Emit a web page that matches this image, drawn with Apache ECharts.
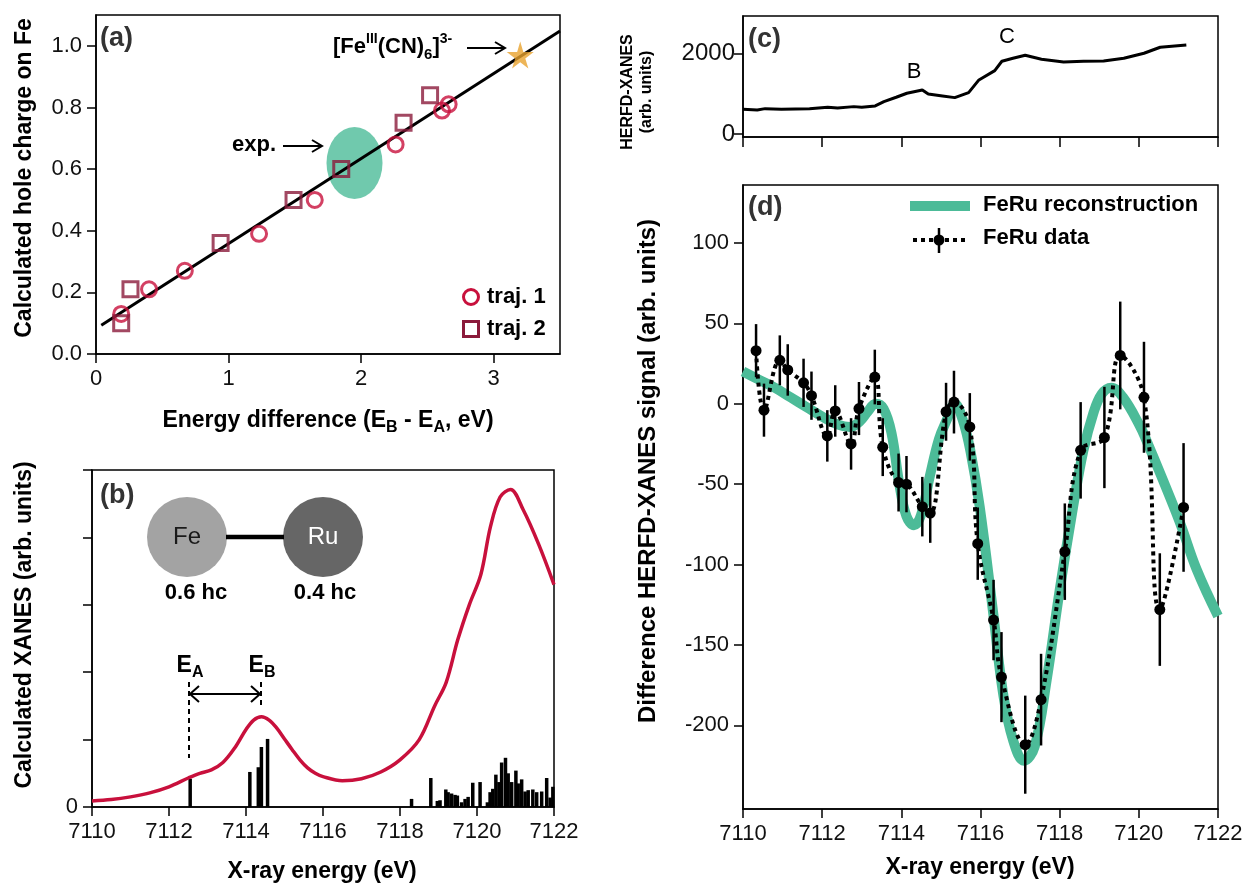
<!DOCTYPE html>
<html>
<head>
<meta charset="UTF-8" />
<title>FeRu hole charge and HERFD-XANES</title>
<script src="https://cdn.jsdelivr.net/npm/echarts@6/dist/echarts.min.js"></script>
<style>
  html, body { margin: 0; padding: 0; background: #fff; }
  #main { width: 1251px; height: 890px; }
</style>
</head>
<body>
<div id="main"></div>
<script>
  // ---- panel (a): hole charge vs energy difference ----
  const traj1 = [[0.19,0.13],[0.40,0.21],[0.67,0.27],[1.23,0.39],[1.65,0.50],[2.26,0.68],[2.61,0.79],[2.66,0.81]];
  const traj2 = [[0.19,0.10],[0.26,0.21],[0.94,0.36],[1.49,0.50],[1.85,0.60],[2.32,0.75],[2.52,0.84]];
  const fitLine = [[0.04,0.093],[3.5,1.048]];
  const ferricyanide = [[3.20,0.97]];
  const expRegion = [[1.95,0.62]];
  const aXTicks = [0,1,2,3];
  const aYTicks = [0,0.2,0.4,0.6,0.8,1.0];

  // ---- panel (b): calculated XANES + stick spectrum ----
  const xanesE = [7110.0,7110.5,7111.0,7111.5,7112.0,7112.5,7112.8,7113.1,7113.4,7113.7,7114.0,7114.2,7114.4,7114.6,7114.8,7115.0,7115.2,7115.4,7115.6,7115.8,7116.0,7116.5,7117.0,7117.5,7118.0,7118.5,7118.9,7119.2,7119.5,7119.8,7120.1,7120.35,7120.6,7120.87,7121.2,7121.6,7122.0];
  const xanesI = [0.09,0.11,0.15,0.21,0.30,0.43,0.50,0.55,0.66,0.87,1.15,1.29,1.34,1.29,1.17,1.01,0.85,0.70,0.58,0.50,0.45,0.39,0.42,0.52,0.70,1.00,1.50,1.85,2.48,3.00,3.45,4.16,4.60,4.71,4.41,3.90,3.30];
  const stickE = [7112.55,7114.10,7114.32,7114.40,7114.56,7118.30,7118.80,7118.97,7119.04,7119.19,7119.25,7119.34,7119.43,7119.49,7119.60,7119.69,7119.77,7119.89,7120.08,7120.27,7120.34,7120.41,7120.49,7120.57,7120.64,7120.74,7120.81,7120.90,7121.01,7121.07,7121.16,7121.25,7121.33,7121.45,7121.55,7121.68,7121.81,7121.90,7121.97];
  const stickI = [0.42,0.52,0.59,0.89,1.01,0.12,0.43,0.09,0.10,0.26,0.22,0.20,0.18,0.17,0.07,0.12,0.15,0.36,0.37,0.07,0.22,0.27,0.48,0.37,0.66,0.73,0.50,0.37,0.54,0.35,0.41,0.23,0.25,0.26,0.22,0.23,0.43,0.14,0.30];
  const energyTicks = [7110,7112,7114,7116,7118,7120,7122];

  // ---- panel (c): HERFD-XANES ----
  const herfdE = [7110.0,7110.36,7110.56,7110.97,7111.68,7112.14,7112.39,7112.8,7113.0,7113.34,7113.56,7113.87,7114.14,7114.53,7114.68,7115.04,7115.35,7115.70,7115.96,7116.36,7116.54,7116.82,7117.13,7117.54,7118.10,7118.6,7119.11,7119.62,7120.13,7120.54,7121.2];
  const herfdV = [612,595,628,612,628,662,645,678,662,695,802,910,1009,1092,992,943,901,1025,1340,1571,1803,1877,1952,1852,1786,1803,1811,1877,2001,2150,2208];
  const cYTicks = [0,2000];

  // ---- panel (d): difference signal ----
  const dataE = [7110.33,7110.53,7110.93,7111.13,7111.53,7111.73,7112.13,7112.33,7112.73,7112.93,7113.33,7113.53,7113.93,7114.13,7114.53,7114.73,7115.13,7115.33,7115.73,7115.93,7116.33,7116.53,7117.13,7117.53,7118.13,7118.53,7119.13,7119.53,7120.13,7120.53,7121.13];
  const dataV = [33,-4,27,21,13,5,-20,-4.5,-25,-3,16.6,-27,-49,-50,-64,-68,-5,1,-14.4,-87,-134.5,-170,-212,-184,-92,-29,-21,30,4,-128,-64.5];
  const dataErr = [16.5,16.5,15.5,16,15,15,16,16,16,16.5,17,18,18,17.5,18.5,18.5,18,19.5,21,22.5,25,28,30.5,28.5,30,30,31.5,33.5,34.5,35,40];
  const reconE = [7110.0,7110.4,7110.8,7111.2,7111.6,7112.0,7112.4,7112.7,7112.95,7113.15,7113.35,7113.55,7113.75,7113.95,7114.13,7114.32,7114.5,7114.72,7114.95,7115.15,7115.35,7115.55,7115.75,7115.98,7116.32,7116.57,7116.82,7117.1,7117.37,7117.67,7118.0,7118.34,7118.6,7118.85,7119.06,7119.3,7119.6,7120.03,7120.19,7120.61,7121.04,7121.46,7122.0];
  const reconV = [20,15,10,4,-2,-8,-13,-14.5,-11,-5,0,-3,-18,-50,-70,-75.5,-69,-45,-22,-10,0,-10,-30,-64,-130,-180,-209,-222,-213,-172,-116,-64,-29,-6,6,10,4,-14,-22.7,-47.5,-74,-103,-132];
  const dYTicks = [-200,-150,-100,-50,0,50,100];

  const FONT = "'Liberation Sans', Arial, Helvetica, sans-serif";
  const teal = '#4cbb98';
  const crimson = '#c8103c';
  const darkred = '#8b1a3b';
  const gold = '#e9a22e';
  const star = 'path://M50,0 L61,35 L98,35 L68,57 L79,91 L50,70 L21,91 L32,57 L2,35 L39,35 Z';

  const zip = (a, b) => a.map((v, i) => [v, b[i]]);

  const chart = echarts.init(document.getElementById('main'));

  const boxGrid = (left, top, width, height) => ({
    left, top, width, height, show: true, borderColor: '#000', borderWidth: 1.5, backgroundColor: 'transparent'
  });

  function axis(gridIndex, min, max, ticks, extra) {
    const base = {
      gridIndex, type: 'value', min, max,
      axisLine: { show: true, onZero: false, lineStyle: { color: '#000', width: 1.5 } },
      axisTick: { show: true, length: 9, customValues: ticks, lineStyle: { color: '#000', width: 1.5 } },
      axisLabel: { customValues: ticks, fontSize: 22, color: '#111', fontFamily: FONT, margin: 14, formatter: v => String(v) },
      splitLine: { show: false }
    };
    extra = extra || {};
    if (extra.axisLabel) extra.axisLabel = Object.assign({}, base.axisLabel, extra.axisLabel);
    if (extra.axisTick) extra.axisTick = Object.assign({}, base.axisTick, extra.axisTick);
    return Object.assign(base, extra);
  }

  function txt(x, y, text, o) {
    o = o || {};
    return {
      type: 'text', x, y, rotation: o.rotation || 0, z: 50,
      style: {
        text, fill: o.fill || '#000',
        font: (o.bold ? 'bold ' : '') + (o.size || 22) + 'px ' + FONT,
        textAlign: o.align || 'center', align: o.align || 'center',
        textVerticalAlign: 'middle', verticalAlign: 'middle',
        rich: o.rich
      }
    };
  }
  function seg(x1, y1, x2, y2, w, dash) {
    return { type: 'line', z: 50, shape: { x1, y1, x2, y2 }, style: { stroke: '#000', lineWidth: w || 2, lineDash: dash || null } };
  }
  function head(points, w) {
    return { type: 'polyline', z: 50, shape: { points }, style: { stroke: '#000', lineWidth: w || 2, fill: null } };
  }

  const bold = (size, extra) => Object.assign({ fontSize: size, fontWeight: 'bold', fontFamily: FONT, color: '#000' }, extra || {});
  const richBase = {
    t: bold(23, { lineHeight: 30, verticalAlign: 'middle' }),
    s: bold(16, { lineHeight: 14, verticalAlign: 'bottom' }),
    p: bold(15, { lineHeight: 14, verticalAlign: 'top' })
  };

  const graphics = [
    // panel labels
    txt(100, 39, '(a)', { bold: true, size: 27, fill: '#333', align: 'left' }),
    txt(100, 496, '(b)', { bold: true, size: 27, fill: '#333', align: 'left' }),
    txt(748, 40, '(c)', { bold: true, size: 27, fill: '#333', align: 'left' }),
    txt(748, 208, '(d)', { bold: true, size: 27, fill: '#333', align: 'left' }),

    // axis titles
    txt(25, 178, 'Calculated hole charge on Fe', { bold: true, size: 23, rotation: Math.PI / 2 }),
    txt(328, 421, '{t|Energy difference (E}{s|B}{t| - E}{s|A}{t|, eV)}', { rich: richBase }),
    txt(25, 625, 'Calculated XANES (arb. units)', { bold: true, size: 23, rotation: Math.PI / 2 }),
    txt(322, 872, 'X-ray energy (eV)', { bold: true, size: 23 }),
    txt(628, 92, 'HERFD-XANES', { bold: true, size: 16, rotation: Math.PI / 2 }),
    txt(647, 92, '(arb. units)', { bold: true, size: 16, rotation: Math.PI / 2 }),
    txt(648, 471, 'Difference HERFD-XANES signal (arb. units)', { bold: true, size: 24, rotation: Math.PI / 2 }),
    txt(980, 868, 'X-ray energy (eV)', { bold: true, size: 23 }),

    // panel (a) annotations
    txt(232, 145, 'exp.', { bold: true, size: 22, align: 'left' }),
    seg(283, 146, 321, 146, 2),
    head([[312, 140], [322, 146], [312, 152]], 2),
    txt(333, 47, '{t|[Fe}{p|III}{t|(CN)}{s|6}{t|]}{p|3-}', { align: 'left', rich: {
      t: bold(22, { lineHeight: 30, verticalAlign: 'middle' }),
      s: bold(15, { lineHeight: 14, verticalAlign: 'bottom' }),
      p: bold(14, { lineHeight: 14, verticalAlign: 'top' })
    } }),
    seg(467, 48, 504, 48, 2),
    head([[495, 42], [505, 48], [495, 54]], 2),
    // legend (a)
    { type: 'circle', z: 50, shape: { cx: 471, cy: 297, r: 7.5 }, style: { fill: null, stroke: crimson, lineWidth: 3 } },
    txt(487, 297, 'traj. 1', { bold: true, size: 22, align: 'left' }),
    { type: 'rect', z: 50, shape: { x: 463.5, y: 321.5, width: 15, height: 15 }, style: { fill: null, stroke: darkred, lineWidth: 3 } },
    txt(487, 329, 'traj. 2', { bold: true, size: 22, align: 'left' }),

    // panel (b) inset molecule
    seg(226, 537, 284, 537, 4.5),
    { type: 'circle', z: 49, shape: { cx: 187, cy: 537, r: 40 }, style: { fill: '#a3a3a3' } },
    { type: 'circle', z: 49, shape: { cx: 323, cy: 537, r: 40 }, style: { fill: '#666666' } },
    txt(187, 537, 'Fe', { size: 24, fill: '#1a1a1a' }),
    txt(323, 537, 'Ru', { size: 24, fill: '#ffffff' }),
    txt(196, 593, '0.6 hc', { bold: true, size: 22 }),
    txt(325, 593, '0.4 hc', { bold: true, size: 22 }),
    // E_A / E_B markers
    txt(190, 666, '{t|E}{s|A}', { rich: richBase }),
    txt(262, 666, '{t|E}{s|B}', { rich: richBase }),
    seg(189, 682, 189, 758, 2, [5, 4]),
    seg(261, 682, 261, 706, 2, [5, 4]),
    seg(190, 694, 260, 694, 2),
    head([[199, 686], [190, 694], [199, 702]], 2),
    head([[251, 686], [260, 694], [251, 702]], 2),

    // panel (c) peak labels
    txt(914, 72, 'B', { size: 22 }),
    txt(1007, 37, 'C', { size: 22 }),

    // legend (d)
    { type: 'rect', z: 50, shape: { x: 910, y: 201, width: 60, height: 10 }, style: { fill: teal } },
    txt(983, 205, 'FeRu reconstruction', { bold: true, size: 22, align: 'left' }),
    seg(913, 240, 966, 240, 4, [4, 4]),
    seg(939, 228, 939, 253, 2.5),
    { type: 'circle', z: 51, shape: { cx: 939, cy: 240, r: 5.5 }, style: { fill: '#000' } },
    txt(983, 238, 'FeRu data', { bold: true, size: 22, align: 'left' })
  ];

  const option = {
    animation: false,
    backgroundColor: '#fff',
    grid: [
      boxGrid(96, 15, 464, 339),
      boxGrid(92, 470, 462, 337),
      boxGrid(743, 16, 475, 121),
      boxGrid(743, 185, 475, 624)
    ],
    xAxis: [
      axis(0, 0, 3.5, aXTicks),
      axis(1, 7110, 7122, energyTicks, { interval: 2 }),
      axis(2, 7110, 7122, energyTicks, { interval: 2, axisLabel: { show: false }, axisTick: { length: 10 } }),
      axis(3, 7110, 7122, energyTicks, { interval: 2 })
    ],
    yAxis: [
      axis(0, 0, 1.1, aYTicks, { axisLabel: { formatter: v => v.toFixed(1) } }),
      axis(1, 0, 5, [0,1,2,3,4,5], { interval: 1, axisLabel: { customValues: [0] } }),
      axis(2, -75, 2925, cYTicks, { axisLabel: { fontSize: 24, margin: 8 } }),
      axis(3, -252, 136, dYTicks)
    ],
    series: [
      // (a)
      { type: 'scatter', xAxisIndex: 0, yAxisIndex: 0, data: expRegion, symbol: 'circle', symbolSize: [56, 72], itemStyle: { color: teal }, z: 1, silent: true },
      { type: 'line', xAxisIndex: 0, yAxisIndex: 0, data: fitLine, showSymbol: false, lineStyle: { color: '#000', width: 3 }, z: 2 },
      { type: 'scatter', xAxisIndex: 0, yAxisIndex: 0, data: traj1, symbol: 'circle', symbolSize: 15, itemStyle: { color: 'rgba(0,0,0,0)', borderColor: crimson, borderWidth: 3 }, z: 3 },
      { type: 'scatter', xAxisIndex: 0, yAxisIndex: 0, data: traj2, symbol: 'rect', symbolSize: 15, itemStyle: { color: 'rgba(0,0,0,0)', borderColor: darkred, borderWidth: 3 }, z: 3 },
      { type: 'scatter', xAxisIndex: 0, yAxisIndex: 0, data: ferricyanide, symbol: star, symbolSize: 27, itemStyle: { color: gold }, z: 4 },
      // (b)
      { type: 'bar', xAxisIndex: 1, yAxisIndex: 1, data: zip(stickE, stickI), barWidth: 3.5, itemStyle: { color: '#000' }, z: 2 },
      { type: 'line', xAxisIndex: 1, yAxisIndex: 1, data: zip(xanesE, xanesI), smooth: 0.35, showSymbol: false, lineStyle: { color: crimson, width: 3.5 }, z: 3 },
      // (c)
      { type: 'line', xAxisIndex: 2, yAxisIndex: 2, data: zip(herfdE, herfdV), showSymbol: false, lineStyle: { color: '#000', width: 3 } },
      // (d)
      { type: 'line', xAxisIndex: 3, yAxisIndex: 3, data: zip(reconE, reconV), smooth: 0.4, showSymbol: false, lineStyle: { color: teal, width: 10 }, z: 1 },
      { type: 'custom', xAxisIndex: 3, yAxisIndex: 3, encode: { x: 0, y: 1 }, z: 2,
        data: dataE.map((e, i) => [e, dataV[i], dataErr[i]]),
        renderItem: (params, api) => {
          const x = api.value(0), y = api.value(1), e = api.value(2);
          const p1 = api.coord([x, y - e]), p2 = api.coord([x, y + e]);
          return { type: 'line', shape: { x1: p1[0], y1: p1[1], x2: p2[0], y2: p2[1] }, style: { stroke: '#000', lineWidth: 2.5 } };
        } },
      { type: 'line', xAxisIndex: 3, yAxisIndex: 3, data: zip(dataE, dataV), smooth: 0.4, symbol: 'circle', symbolSize: 11, showSymbol: true,
        itemStyle: { color: '#000' }, lineStyle: { color: '#000', width: 4, type: [4, 4] }, z: 3 }
    ],
    graphic: graphics
  };

  chart.setOption(option);
</script>
</body>
</html>
